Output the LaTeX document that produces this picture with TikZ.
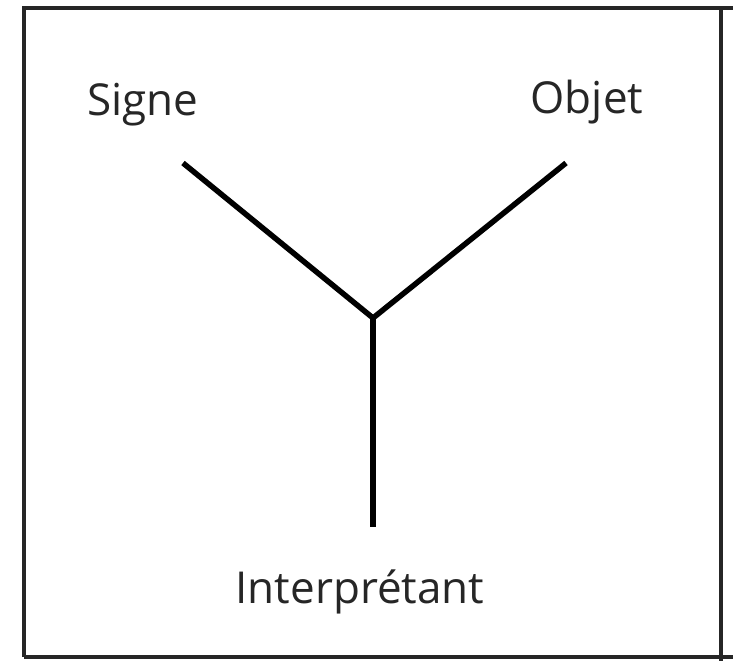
\documentclass[tikz,border=0pt]{standalone}
\usepackage{fontspec}
\setmainfont{Open Sans}
\begin{document}
\begin{tikzpicture}[x=1pt, y=-1pt, frame/.style = {line width=3.5pt, black!85}, leg/.style = {line width=5.5pt, line cap=butt}, label/.style = {font=\fontsize{44}{50}\selectfont, text=black!85, anchor=base, inner sep=0pt}]
  \useasboundingbox (0,0) rectangle (733,661);
  \node[label] (signe) at (143,115) {Signe};
  \node[label] (objet) at (587,113) {Objet};
  \node[label] (interp) at (360,603) {Interprétant};
  \coordinate (s) at (183,163);
  \coordinate (o) at (566,163);
  \coordinate (c) at (373,318);
  \coordinate (i) at (373,527);
  \draw[leg] (s) -- (c) -- (o);
  \draw[leg] (c) -- (i);
  % cadre
  \draw[frame] (24,657) -- (24,8) -- (733,8);
  \draw[frame] (24,657) -- (733,657);
  \draw[frame] (721,8) -- (721,661);
\end{tikzpicture}
\end{document}
